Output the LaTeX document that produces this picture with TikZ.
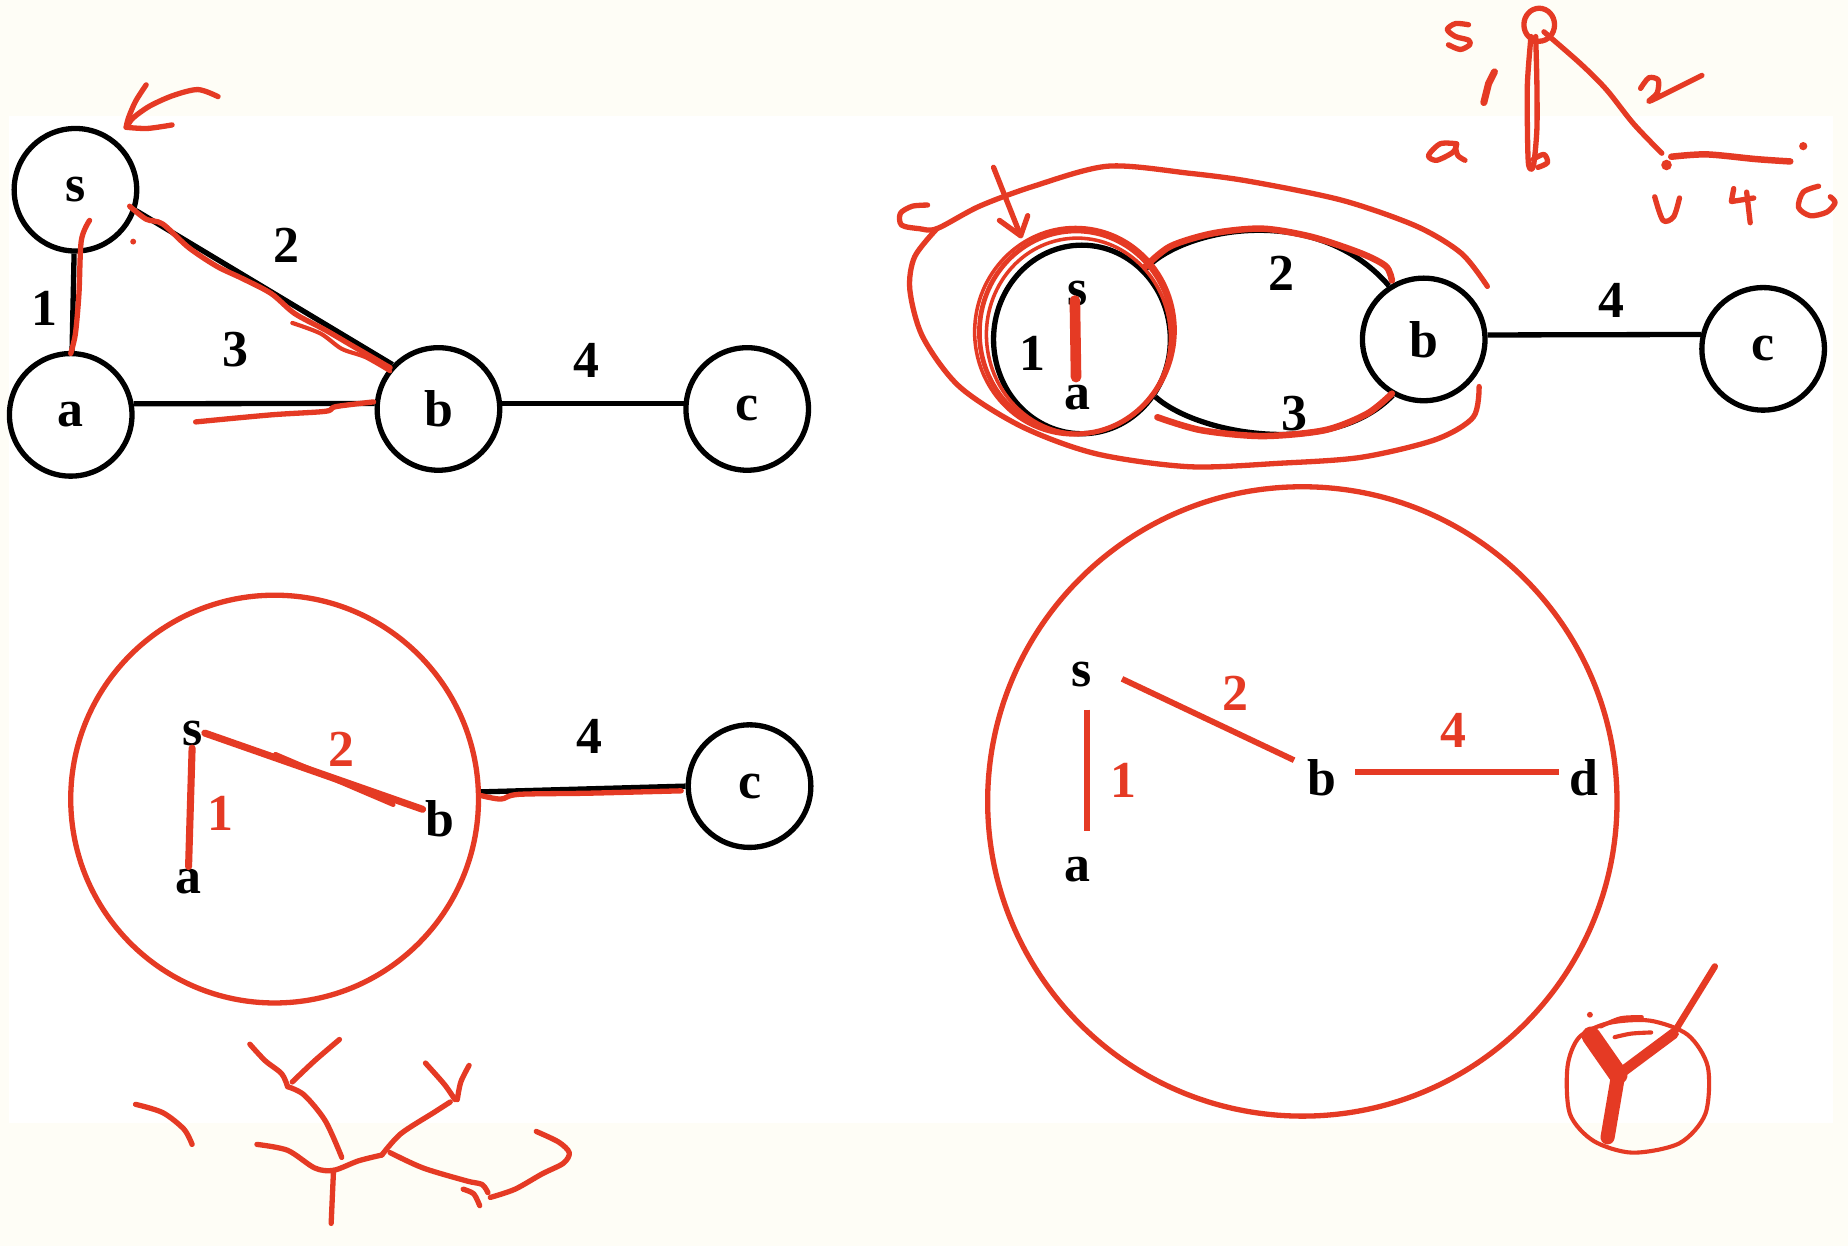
\documentclass[tikz,border=0pt]{standalone}
\usepackage{fontspec}
\setmainfont{Liberation Serif}
\usetikzlibrary{shapes.geometric,calc}
\definecolor{myred}{RGB}{229,58,36}
\definecolor{bgcream}{RGB}{254,253,246}
\newcommand{\myletf}{\fontsize{44}{44}\selectfont\bfseries}
\newcommand{\mynumf}{\fontsize{44}{44}\selectfont\bfseries}
\tikzset{
  vtx/.style={draw=black, circle, line width=4.5pt, minimum size=104pt, inner sep=0pt, font=\myletf},
  blk/.style={draw=black, line width=4.5pt},
  rd/.style={draw=myred, line width=5pt, line cap=round, line join=round},
  hand/.style={draw=myred, line width=4.5pt, line cap=round, line join=round},
  lbl/.style={font=\mynumf, inner sep=0pt},
  lblr/.style={font=\mynumf, inner sep=0pt, text=myred},
  lett/.style={font=\myletf, inner sep=2pt},
}
\begin{document}
\begin{tikzpicture}[x=1pt,y=-1pt]
\fill[bgcream] (0,0) rectangle (1568,1057);
\fill[white] (8,98) rectangle (1555,953);
\useasboundingbox (0,0) rectangle (1568,1057);

% ---------------- top-left graph ----------------
\node[vtx] (s1) at (64,161) {s};
\node[vtx] (a1) at (60,352) {a};
\node[vtx] (b1) at (372,347) {b};
\node[vtx] (c1) at (634,347) {c};
\draw[blk] (s1) -- (a1);
\draw[blk] (s1.-19) -- (b1.136);
\draw[blk] (a1.10) -- (b1.175);
\draw[blk] (b1.5) -- (c1.175);
\node[lbl] (w1) at (38,262) {1};
\node[lbl] (w2) at (243,208) {2};
\node[lbl] (w3) at (200,297) {3};
\node[lbl] (w4) at (498,306) {4};
% red annotations
\draw[hand] plot[smooth] coordinates {(110,175)(124,186)(138,190)(160,210)(184,226)(205,236)(230,249)(250,266)(276,280)(300,294)(331,312)};
\draw[hand, line width=3.5pt] plot[smooth] coordinates {(248,274)(272,283)(290,296)(310,303)(331,315)};
\draw[hand] plot[smooth] coordinates {(76,187)(69,204)(67,249)(64,283)(60,300)};
\draw[hand] plot[smooth] coordinates {(166,358)(230,352)(276,349)(285,345)(317,341)};
\fill[myred] (113,205) circle (2.5pt);
\draw[hand] plot[smooth] coordinates {(185,82)(168,76)(147,81)(127,90)(113,100)(108,107)};
\draw[hand] plot[smooth] coordinates {(124,72)(115,86)(109,100)(107,108)};
\draw[hand] plot[smooth] coordinates {(107,108)(125,109)(146,106)};

% ---------------- top-right graph ----------------
\node[draw=black, ellipse, line width=4.5pt, minimum width=150pt, minimum height=160pt, inner sep=0pt] (sa) at (918,288) {};
\node[lett] (s2) at (914,249) {s};
\node[lbl] (w5) at (876,300) {1};
\node[lett] (a2) at (914,337) {a};
\node[vtx] (b2) at (1208,288) {b};
\node[vtx] (c2) at (1496,296) {c};
\draw[blk] (b2.4) -- (c2.167);
\draw[blk] (sa.48) .. controls ($(sa.48)+(33,-36)$) and ($(b2.123)+(-61,-71)$) .. (b2.123);
\draw[blk] (sa.-38) .. controls ($(sa.-38)+(37,33)$) and ($(b2.-119)+(-51,53)$) .. (b2.-119);
\node[lbl] (w6) at (1087,232) {2};
\node[lbl] (w7) at (1098,351) {3};
\node[lbl] (w8) at (1367,255) {4};
% red annotations
\draw[hand, line width=4pt] (913,282) ellipse [x radius=82pt, y radius=86pt];
\draw[hand, line width=3pt, rotate around={6:(915,285)}] (915,285) ellipse [x radius=78pt, y radius=83pt];
\draw[hand, line width=3pt, rotate around={-6:(912,281)}] (912,281) ellipse [x radius=85pt, y radius=88pt];
\draw[rd, line width=9pt] ($(s2)+(-2,6)$) -- ($(a2)+(-1,-17)$);
\draw[rd, line width=5.5pt] plot[smooth] coordinates {(972,226)(993,209)(1029,198)(1071,194)(1113,201)(1155,215)(1176,226)(1181,238)};
\draw[rd, line width=5.5pt] plot[smooth] coordinates {(982,354)(1019,365)(1071,370)(1124,365)(1160,351)(1181,334)};
\draw[hand] plot[smooth] coordinates {(787,174)(774,175)(764,181)(765,191)(780,194)(795,194)(831,175)(877,158)(940,141)(1009,147)(1061,154)(1139,170)(1202,192)(1240,215)(1262,243)};
\draw[hand] plot[smooth] coordinates {(795,194)(776,218)(772,246)(783,286)(814,328)(867,362)(930,385)(1009,396)(1087,393)(1155,388)(1218,373)(1250,354)(1255,328)};
\draw[hand] (843,142) -- (866,200);
\draw[hand] (848,187) -- (866,200) -- (872,183);
% small sketch
\draw[hand] plot[smooth] coordinates {(1246,21)(1235,20)(1228,25)(1235,31)(1246,34)(1247,38)(1239,42)(1229,38)};
\draw[hand] (1306,21) ellipse [x radius=13pt, y radius=14pt];
\draw[hand] plot[smooth] coordinates {(1299,31)(1296,70)(1296,110)(1297,140)(1301,141)(1304,110)(1304,70)(1303,31)};
\draw[hand] plot[smooth] coordinates {(1301,135)(1310,131)(1313,138)(1305,142)};
\draw[rd, line width=6pt] (1268,61) -- (1263,71) -- (1259,87);
\draw[hand] plot[smooth] coordinates {(1236,122)(1222,122)(1212,132)(1219,136)(1233,129)(1236,122)};
\draw[hand] plot[smooth] coordinates {(1235,125)(1237,132)(1243,136)};
\draw[hand] plot[smooth] coordinates {(1310,27)(1341,54)(1363,76)(1386,105)(1410,130)};
\draw[hand] plot[smooth] coordinates {(1392,75)(1399,66)(1407,68)(1406,79)(1399,86)(1414,79)(1444,64)};
\fill[myred] (1414,140) circle (4.5pt);
\draw[hand, line width=5.5pt] plot[smooth] coordinates {(1418,133)(1448,131)(1490,135)(1519,137)};
\fill[myred] (1530,124) circle (3.5pt);
\draw[hand] plot[smooth] coordinates {(1404,167)(1411,187)(1420,184)(1425,168)};
\draw[hand] (1471,160) -- (1469,171) -- (1488,168);
\draw[hand] (1482,163) -- (1485,189);
\draw[hand] plot[smooth] coordinates {(1543,158)(1530,163)(1526,176)(1536,183)(1550,180)(1557,172)(1553,167)};

% ---------------- bottom-left graph ----------------
\node[draw=myred, circle, minimum size=346pt, line width=4.5pt, inner sep=0pt] (big1) at (233,678) {};
\node[lett] (s3) at (163,622) {s};
\node[lett] (a3) at (160,748) {a};
\node[lett] (b3) at (373,695) {b};
\node[vtx] (c3) at (636,667) {c};
\draw[blk] (big1.2) -- (c3.180);
\draw[hand] plot[smooth] coordinates {(408,675)(425,678)(440,674)(500,673)(578,671)};
\draw[rd, line width=6pt] (s3.south) -- (a3.north);
\draw[rd, line width=6pt] (s3.east) -- (b3.150);
\draw[rd, line width=4pt] ($(s3.east)+(60,18)$) -- ($(b3.150)+(-25,-4)$);
\node[lbl] (w9) at (500,625) {4};
\node[lblr] (w10) at (290,636) {2};
\node[lblr] (w11) at (187,690) {1};
% tree scribble
\draw[hand] plot[smooth] coordinates {(115,937)(138,944)(156,958)(163,971)};
\draw[hand] plot[smooth] coordinates {(218,971)(244,976)(267,991)(283,993)(304,985)(324,980)};
\draw[hand] plot[smooth] coordinates {(283,993)(282,1015)(281,1038)};
\draw[hand] plot[smooth] coordinates {(290,982)(276,951)(258,929)(244,922)};
\draw[hand] plot[smooth] coordinates {(244,922)(239,911)(225,900)(212,886)};
\draw[hand] plot[smooth] coordinates {(248,918)(267,900)(288,882)};
\draw[hand] plot[smooth] coordinates {(324,980)(340,962)(368,944)(382,935)};
\draw[hand] plot[smooth] coordinates {(361,902)(377,920)(386,933)};
\draw[hand] plot[smooth] coordinates {(398,904)(391,918)(388,933)};
\draw[hand] plot[smooth] coordinates {(331,978)(359,991)(396,1002)(409,1005)(414,1012)};
\draw[hand] plot[smooth] coordinates {(416,1016)(437,1009)(460,996)(478,987)(483,978)(474,969)(455,960)};
\draw[hand] plot[smooth] coordinates {(393,1009)(402,1013)(407,1023)};

% ---------------- bottom-right graph ----------------
\node[draw=myred, circle, minimum size=534pt, line width=4.5pt, inner sep=0pt] (big2) at (1105,680) {};
\node[lett] (s4) at (918,572) {s};
\node[lett] (a4) at (914,738) {a};
\node[lett] (b4) at (1122,660) {b};
\node[lett] (d4) at (1344,660) {d};
\draw[rd, line cap=butt] ($(s4)+(34,4)$) -- ($(b4)+(-24,-15)$);
\draw[rd, line cap=butt] ($(s4)+(4,30)$) -- ($(a4)+(8,-33)$);
\draw[rd, line cap=butt] ($(b4)+(28,-5)$) -- ($(d4)+(-21,-5)$);
\node[lblr] (w12) at (1048,588) {2};
\node[lblr] (w13) at (953,662) {1};
\node[lblr] (w14) at (1233,620) {4};
% check mark
\draw[hand, line width=3.5pt] plot[smooth cycle] coordinates {(1330,905)(1340,880)(1365,868)(1400,866)(1432,878)(1449,905)(1447,945)(1425,970)(1385,978)(1352,968)(1332,945)};
\draw[rd, line width=16pt] (1350,879) -- (1373,912);
\draw[rd, line width=12pt] (1373,912) -- (1364,965);
\draw[rd, line width=9pt] (1373,912) -- (1420,877);
\draw[rd, line width=5.5pt] (1418,880) -- (1455,820);
\draw[hand, line width=3.5pt] plot[smooth] coordinates {(1358,871)(1375,864)(1393,863)};
\draw[hand, line width=3.5pt] plot[smooth] coordinates {(1370,880)(1384,877)(1401,876)};
\fill[myred] (1349,861) circle (2.5pt);
\end{tikzpicture}
\end{document}
